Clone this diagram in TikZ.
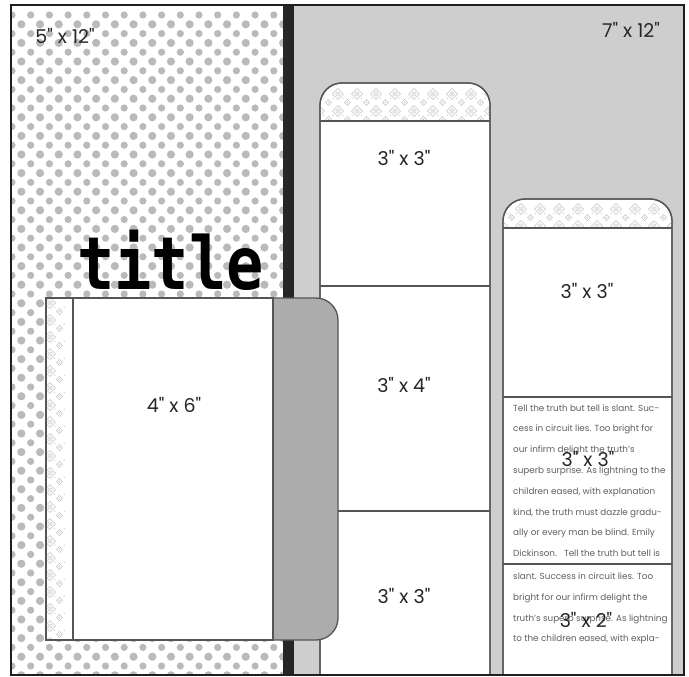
\documentclass[tikz,border=0pt]{standalone}
\usepackage{fontspec}
\setmainfont{Poppins}[Ligatures=TeXOff]
\newfontfamily\titlefont{DejaVu Sans Mono}[BoldFont={DejaVu Sans Mono Bold}]
\definecolor{bgr}{RGB}{206,206,206}
\definecolor{tabc}{RGB}{172,172,172}
\definecolor{stripec}{RGB}{38,38,38}
\definecolor{outl}{RGB}{85,85,85}
\definecolor{dotc}{RGB}{186,186,186}
\definecolor{patc}{RGB}{196,196,196}
\definecolor{framec}{RGB}{30,30,30}
\definecolor{bodyc}{RGB}{95,95,95}
\tikzset{
  colbox/.style={fill=white, draw=outl, line width=1.3pt, rounded corners=22pt},
  outline/.style={draw=outl, line width=1.3pt},
  lab/.style={font=\fontsize{19}{19}\selectfont, inner sep=0pt, text=black!85},
  bodytext/.style={font=\fontsize{8.8}{10}\selectfont, inner sep=0pt, anchor=base west, text=bodyc},
  motif/.pic={
    \draw[patc, line width=0.7pt] (0,-5.5) -- (5.5,0) -- (0,5.5) -- (-5.5,0) -- cycle;
    \draw[patc, line width=0.5pt] (0,0) circle (2.2);
    \fill[patc] (0,0) circle (0.9);
    \draw[patc, line width=0.6pt] (9.5,5.5) -- (12.5,8.5) -- (9.5,11.5) -- (6.5,8.5) -- cycle;
    \fill[patc] (9.5,8.5) circle (0.9);
    \fill[patc] (4.75,4.25) circle (0.7);
    \fill[patc] (14.25,4.25) circle (0.7);
  }
}
\begin{document}
\begin{tikzpicture}[x=1pt,y=-1pt]
\useasboundingbox (0,0) rectangle (689,677);
\fill[white] (0,0) rectangle (689,677);
\begin{scope}
\clip (11,5) rectangle (684,675);
% left polka-dot panel
\fill[white] (11,5) rectangle (288,675);
\foreach \r in {0,...,72}{
  \foreach \c in {0,...,15}{
    \fill[dotc] ({12+\c*18.7+mod(\r,2)*9.35},{15+\r*9.3}) circle ({3.6+0.5*mod(\r,2)});
  }
}
% right grey panel
\fill[bgr] (288,5) rectangle (684,675);
\fill[stripec] (283,5) rectangle (294,675);
% column 1
\path[colbox] (320,700) -- (320,83) -- (490,83) -- (490,700) -- cycle;
\begin{scope}
  \clip[rounded corners=22pt] (320,700) -- (320,83) -- (490,83) -- (490,700) -- cycle;
  \clip (300,70) rectangle (500,121);
  \foreach \i in {0,...,9}{\foreach \j in {0,1,2}{
    \pic at ({319+\i*19},{94+\j*17}) {motif};
  }}
\end{scope}
\path[outline, rounded corners=22pt] (320,700) -- (320,83) -- (490,83) -- (490,700);
\draw[outline] (320,121) -- (490,121);
\draw[outline] (320,286) -- (490,286);
\draw[outline] (320,511) -- (490,511);
% column 2
\path[colbox] (503,700) -- (503,199) -- (672,199) -- (672,700) -- cycle;
\begin{scope}
  \clip[rounded corners=22pt] (503,700) -- (503,199) -- (672,199) -- (672,700) -- cycle;
  \clip (490,190) rectangle (680,228);
  \foreach \i in {0,...,9}{\foreach \j in {0,1,2}{
    \pic at ({502+\i*19},{209+\j*17}) {motif};
  }}
\end{scope}
\path[outline, rounded corners=22pt] (503,700) -- (503,199) -- (672,199) -- (672,700);
\draw[outline] (503,228) -- (672,228);
\draw[outline] (503,397) -- (672,397);
\draw[outline] (503,564) -- (672,564);
% photo with tab
\path[fill=tabc, outline, rounded corners=22pt] (250,298) rectangle (338,640);
\fill[white] (46,298) rectangle (273,640);
\begin{scope}
  \clip (46,298) rectangle (73,640);
  \foreach \j in {0,...,20}{
    \pic at (50,{303+\j*17}) {motif};
  }
\end{scope}
\draw[outline] (73,298) -- (73,640);
\draw[outline] (46,298) rectangle (273,640);
\end{scope}
% frame
\draw[framec, line width=2pt] (11,5) rectangle (684,675);
% title
\node[font=\titlefont\bfseries\fontsize{62}{62}\selectfont, anchor=base west, inner sep=0pt] (title) at (77,289) {\scalebox{1}[1.18]{title}};
% labels
\node[lab] (l5) at (65,36) {5" x 12"};
\node[lab] (r7) at (631,30) {7" x 12"};
\node[lab] (ph) at (174,405) {4" x 6"};
\node[lab] (c1a) at (404,158) {3" x 3"};
\node[lab] (c1b) at (404,385) {3" x 4"};
\node[lab] (c1c) at (404,596) {3" x 3"};
\node[lab] (c2a) at (587,291) {3" x 3"};
% body text
\node[bodytext] (t1) at (513,411) {Tell the truth but tell is slant. Suc-};
\node[bodytext] (t2) at (513,431.8) {cess in circuit lies. Too bright for};
\node[bodytext] (t3) at (513,452.6) {our infirm delight the truth’s};
\node[bodytext] (t4) at (513,473.4) {superb surprise. As lightning to the};
\node[bodytext] (t5) at (513,494.2) {children eased, with explanation};
\node[bodytext] (t6) at (513,515) {kind, the truth must dazzle gradu-};
\node[bodytext] (t7) at (513,535.8) {ally or every man be blind. Emily};
\node[bodytext] (t8) at (513,556.6) {Dickinson.\ \ \ Tell the truth but tell is};
\node[bodytext] (t9) at (513,579) {slant. Success in circuit lies. Too};
\node[bodytext] (t10) at (513,600) {bright for our infirm delight the};
\node[bodytext] (t11) at (513,621) {truth’s superb surprise. As lightning};
\node[bodytext] (t12) at (513,641.5) {to the children eased, with expla-};
\node[lab] (c2b) at (588,459) {3" x 3"};
\node[lab] (c2c) at (586,620) {3" x 2"};
\end{tikzpicture}
\end{document}
